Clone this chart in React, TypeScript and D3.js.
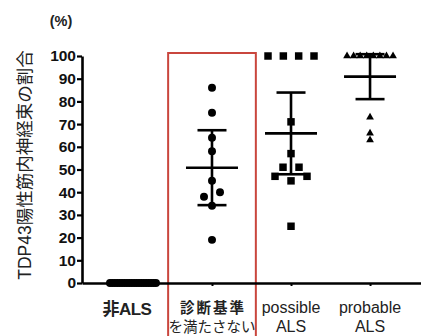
import { useEffect, useRef } from 'react';
import * as d3 from 'd3';

// categories and label lines
const categories = ['非ALS', '診断基準を満たさない', 'possible ALS', 'probable ALS'];
const labelLines = [['非ALS'], ['診断基準', 'を満たさない'], ['possible', 'ALS'], ['probable', 'ALS']];

// values (%)
const nonAls = [0, 0, 0, 0, 0, 0, 0, 0, 0, 0, 0, 0, 0, 0, 0, 0, 0, 0, 0, 0];
const notMeetingCriteria = [86, 75, 64, 58, 45, 38, 40, 34, 19];
const possibleAls = [100, 100, 100, 100, 71, 57, 51, 51, 47, 45, 47, 25];
const probableAls = [100, 100, 100, 100, 100, 100, 100, 100, 73, 66, 63];

// mean and SD lines as drawn
const means = [0, 50.8, 65.9, 90.9];
const sds = [0, 16.5, 18, 9.9];

const yTicks = [0, 10, 20, 30, 40, 50, 60, 70, 80, 90, 100];

const W = 421;
const H = 336;
const LATIN = "'Liberation Sans', Arial, 'Noto Sans CJK JP', sans-serif";

// spread points with (almost) equal values side by side, centered on the column
function spread(values: number[], cx: number, y: (v: number) => number) {
  const rows: number[][] = [];
  values.forEach(v => {
    const last = rows[rows.length - 1];
    if (last && Math.abs(y(v) - y(last[0])) <= 6) last.push(v);
    else rows.push([v]);
  });
  const out: { x: number; y: number }[] = [];
  rows.forEach(row => {
    const gap = row.length > 1 ? Math.min(16, 46 / (row.length - 1)) : 0;
    row.forEach((v, i) => out.push({ x: cx + (i - (row.length - 1) / 2) * gap, y: y(v) }));
  });
  return out;
}

export default function App() {
  const svgRef = useRef<SVGSVGElement>(null);

  useEffect(() => {
    const svg = d3.select(svgRef.current);
    svg.selectAll('*').remove();

    const x = d3.scalePoint<string>().domain(categories).range([82, 421]).padding(0.645);
    const y = d3.scaleLinear().domain([0, 100]).range([283, 56]);

    // red box around the second group
    const cx2 = x(categories[1])!;
    const half = x.step() * 0.555;
    svg.append('rect')
      .attr('x', cx2 - half)
      .attr('y', y(100) - 3)
      .attr('width', half * 2)
      .attr('height', H)
      .attr('fill', 'none')
      .attr('stroke', '#c9463d')
      .attr('stroke-width', 2);

    // y axis
    const yAxis = svg.append('g')
      .attr('transform', 'translate(82,0)')
      .call(d3.axisLeft(y).tickValues(yTicks).tickSize(5).tickSizeOuter(0).tickPadding(1));
    yAxis.select('.domain').attr('stroke', '#000').attr('stroke-width', 2.6);
    yAxis.selectAll('.tick line').attr('stroke', '#000').attr('stroke-width', 2.2);
    yAxis.selectAll('.tick text')
      .attr('fill', '#111')
      .style('font-family', LATIN)
      .style('font-weight', 'bold')
      .style('font-size', '15.5px');

    // x axis
    const xAxis = svg.append('g')
      .attr('transform', `translate(0,${y(0)})`)
      .call(d3.axisBottom(x).tickSize(3).tickSizeOuter(0).tickFormat(() => ''));
    xAxis.select('.domain').attr('stroke', '#000').attr('stroke-width', 2.6);
    xAxis.selectAll('.tick line').attr('stroke', '#000').attr('stroke-width', 2);

    // category labels
    labelLines.forEach((lines, i) => {
      const cx = x(categories[i])!;
      const single = lines.length === 1;
      lines.forEach((t, j) => {
        const isCjk = /[\u3040-\u9fff]/.test(t);
        const heavy = single || (i === 1 && j === 0);
        svg.append('text')
          .attr('x', single ? cx - 6 : cx + (i === 1 && j === 0 ? 1 : 0))
          .attr('y', single ? 315 : 313 + j * 18.5)
          .attr('text-anchor', 'middle')
          .attr('fill', '#222')
          .style('font-family', LATIN)
          .style('font-weight', heavy ? 'bold' : 'normal')
          .style('font-size', single ? '17px' : isCjk ? '14.5px' : '16px')
          .style('letter-spacing', single ? '-0.5px' : i === 1 && j === 0 ? '2px' : '0px')
          .text(t);
      });
    });

    // y axis title
    svg.append('text')
      .attr('transform', 'translate(31,165) rotate(-90)')
      .attr('text-anchor', 'middle')
      .attr('fill', '#222')
      .style('font-family', LATIN)
      .style('font-size', '17.5px')
      .text('TDP43陽性筋内神経束の割合');

    svg.append('text')
      .attr('x', 61)
      .attr('y', 26)
      .attr('text-anchor', 'middle')
      .attr('fill', '#222')
      .style('font-family', LATIN)
      .style('font-weight', 'bold')
      .style('font-size', '14.5px')
      .text('(%)');

    // points
    const groups = [nonAls, notMeetingCriteria, possibleAls, probableAls];
    const shapes = [
      d3.symbol(d3.symbolCircle, 50),
      d3.symbol(d3.symbolCircle, 50),
      d3.symbol(d3.symbolSquare, 56),
      d3.symbol(d3.symbolTriangle, 26),
    ];
    groups.forEach((vals, i) => {
      const pts = spread(vals, x(categories[i])!, y);
      svg.append('g')
        .selectAll('path')
        .data(pts)
        .join('path')
        .attr('transform', d => `translate(${d.x},${d.y})`)
        .attr('d', shapes[i]()!)
        .attr('fill', '#000');
    });

    // mean and SD bars
    means.forEach((m, i) => {
      const cx = x(categories[i])!;
      const g = svg.append('g').attr('stroke', '#000').attr('stroke-width', 2.6);
      g.append('line').attr('x1', cx).attr('x2', cx).attr('y1', y(m + sds[i])).attr('y2', y(m - sds[i]));
      g.append('line').attr('x1', cx - 26).attr('x2', cx + 26).attr('y1', y(m)).attr('y2', y(m));
      [m + sds[i], m - sds[i]].forEach(v => {
        g.append('line').attr('x1', cx - 14.5).attr('x2', cx + 14.5).attr('y1', y(v)).attr('y2', y(v));
      });
    });
  }, []);

  return (
    <svg
      ref={svgRef}
      width={W}
      height={H}
      style={{ position: 'absolute', left: 0, top: 0, background: '#fff' }}
    />
  );
}
